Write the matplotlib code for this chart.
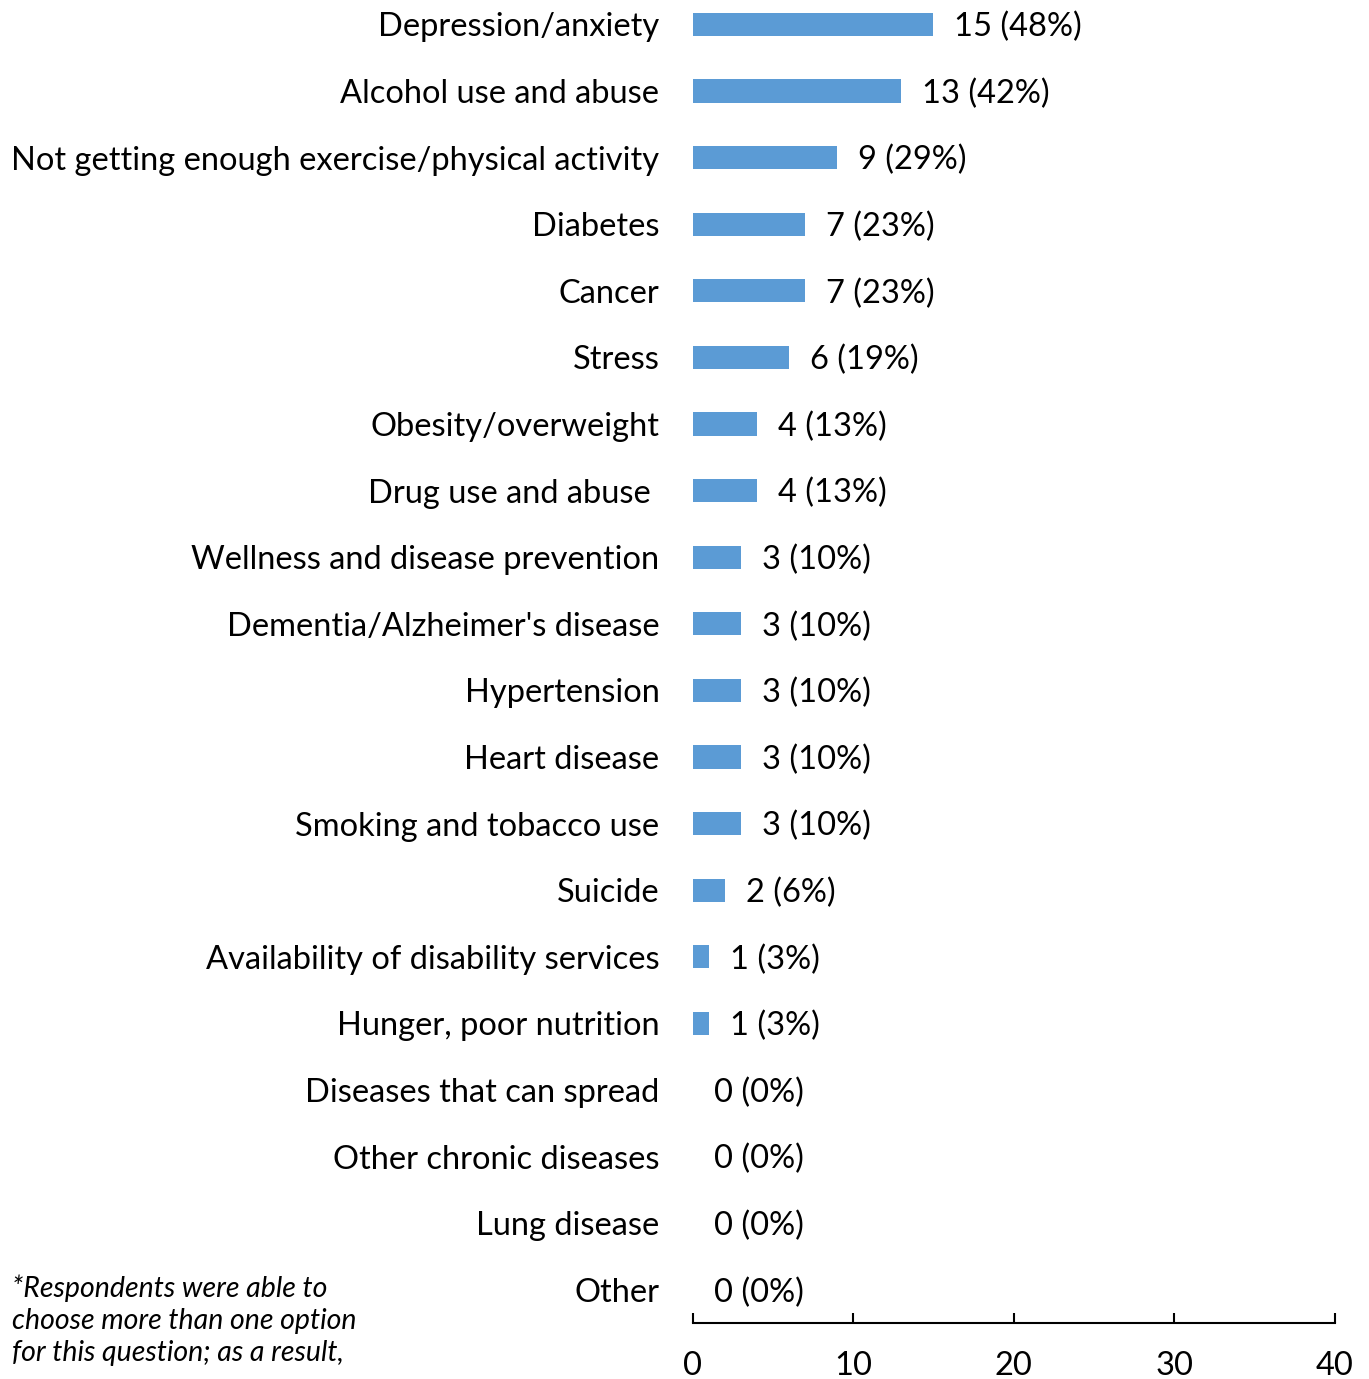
import matplotlib.pyplot as plt

plt.rcParams['font.family'] = ['Lato', 'DejaVu Sans']

categories = [
    "Depression/anxiety", "Alcohol use and abuse",
    "Not getting enough exercise/physical activity", "Diabetes", "Cancer",
    "Stress", "Obesity/overweight", "Drug use and abuse ",
    "Wellness and disease prevention", "Dementia/Alzheimer's disease",
    "Hypertension", "Heart disease", "Smoking and tobacco use", "Suicide",
    "Availability of disability services", "Hunger, poor nutrition",
    "Diseases that can spread", "Other chronic diseases", "Lung disease",
    "Other",
]
counts = [15, 13, 9, 7, 7, 6, 4, 4, 3, 3, 3, 3, 3, 2, 1, 1, 0, 0, 0, 0]
percents = [48, 42, 29, 23, 23, 19, 13, 13, 10, 10, 10, 10, 10, 6, 3, 3, 0, 0, 0, 0]
x_ticks = [0, 10, 20, 30, 40]
footnote = ("*Respondents were able to\n"
            "choose more than one option\n"
            "for this question; as a result,")

fig = plt.figure(figsize=(13.69, 13.79), dpi=100)
ax = fig.add_axes([0.506, 0.0405, 0.469, 0.966])

ypos = list(range(len(categories)))
ax.barh(ypos, counts, height=0.35, color='#5B9BD5')
for y, c, p in zip(ypos, counts, percents):
    ax.annotate(f"{c} ({p}%)", xy=(c, y), xytext=(15, -2), textcoords='offset points',
                va='center', ha='left', fontsize=23.5, color='black')

ax.set_ylim(len(categories) - 0.5, -0.5)
ax.set_xlim(0, 40)
ax.set_yticks(ypos)
ax.set_yticklabels(categories, fontsize=23.5)
ax.tick_params(axis='y', length=0, pad=24)
ax.set_xticks(x_ticks)
ax.tick_params(axis='x', direction='in', length=7, width=1.5, pad=20, labelsize=23.5)
for s in ['top', 'right', 'left']:
    ax.spines[s].set_visible(False)
ax.spines['bottom'].set_linewidth(1.5)

fig.text(0.009, 0.076, footnote, fontsize=20.5, style='italic', va='top', ha='left',
         linespacing=1.3)

fig.savefig('out.png', dpi=100)
